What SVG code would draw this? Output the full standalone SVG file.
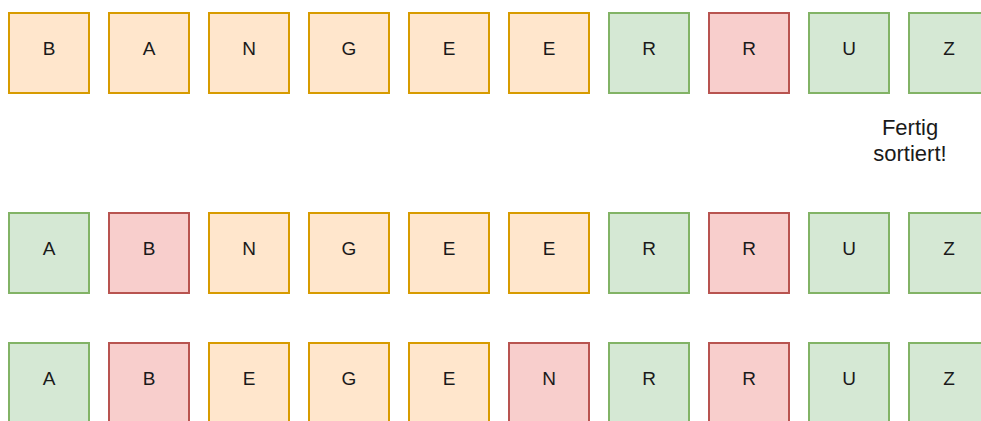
<svg xmlns="http://www.w3.org/2000/svg" width="981" height="421" viewBox="0 0 981 421">
<style>
rect{stroke-width:2}
.o{fill:#ffe6cc;stroke:#d79b00}
.g{fill:#d5e8d4;stroke:#82b366}
.r{fill:#f8cecc;stroke:#b85450}
text{font-family:"Liberation Sans",Arial,sans-serif;font-size:19px;fill:#1a1a1a;text-anchor:middle}
.lbl{font-size:22px}
</style>
<rect width="981" height="421" fill="#ffffff" stroke="none"/>
<g id="row1">
<g id="r1c1"><rect class="o" x="9" y="13" width="80" height="80"/><text x="49" y="55">B</text></g>
<g id="r1c2"><rect class="o" x="109" y="13" width="80" height="80"/><text x="149" y="55">A</text></g>
<g id="r1c3"><rect class="o" x="209" y="13" width="80" height="80"/><text x="249" y="55">N</text></g>
<g id="r1c4"><rect class="o" x="309" y="13" width="80" height="80"/><text x="349" y="55">G</text></g>
<g id="r1c5"><rect class="o" x="409" y="13" width="80" height="80"/><text x="449" y="55">E</text></g>
<g id="r1c6"><rect class="o" x="509" y="13" width="80" height="80"/><text x="549" y="55">E</text></g>
<g id="r1c7"><rect class="g" x="609" y="13" width="80" height="80"/><text x="649" y="55">R</text></g>
<g id="r1c8"><rect class="r" x="709" y="13" width="80" height="80"/><text x="749" y="55">R</text></g>
<g id="r1c9"><rect class="g" x="809" y="13" width="80" height="80"/><text x="849" y="55">U</text></g>
<g id="r1c10"><rect class="g" x="909" y="13" width="80" height="80"/><text x="949" y="55">Z</text></g>
</g>
<g id="label"><text class="lbl" x="910" y="135">Fertig</text><text class="lbl" x="910" y="161">sortiert!</text></g>
<g id="row2">
<g id="r2c1"><rect class="g" x="9" y="213" width="80" height="80"/><text x="49" y="255">A</text></g>
<g id="r2c2"><rect class="r" x="109" y="213" width="80" height="80"/><text x="149" y="255">B</text></g>
<g id="r2c3"><rect class="o" x="209" y="213" width="80" height="80"/><text x="249" y="255">N</text></g>
<g id="r2c4"><rect class="o" x="309" y="213" width="80" height="80"/><text x="349" y="255">G</text></g>
<g id="r2c5"><rect class="o" x="409" y="213" width="80" height="80"/><text x="449" y="255">E</text></g>
<g id="r2c6"><rect class="o" x="509" y="213" width="80" height="80"/><text x="549" y="255">E</text></g>
<g id="r2c7"><rect class="g" x="609" y="213" width="80" height="80"/><text x="649" y="255">R</text></g>
<g id="r2c8"><rect class="r" x="709" y="213" width="80" height="80"/><text x="749" y="255">R</text></g>
<g id="r2c9"><rect class="g" x="809" y="213" width="80" height="80"/><text x="849" y="255">U</text></g>
<g id="r2c10"><rect class="g" x="909" y="213" width="80" height="80"/><text x="949" y="255">Z</text></g>
</g>
<g id="row3">
<g id="r3c1"><rect class="g" x="9" y="343" width="80" height="80"/><text x="49" y="385">A</text></g>
<g id="r3c2"><rect class="r" x="109" y="343" width="80" height="80"/><text x="149" y="385">B</text></g>
<g id="r3c3"><rect class="o" x="209" y="343" width="80" height="80"/><text x="249" y="385">E</text></g>
<g id="r3c4"><rect class="o" x="309" y="343" width="80" height="80"/><text x="349" y="385">G</text></g>
<g id="r3c5"><rect class="o" x="409" y="343" width="80" height="80"/><text x="449" y="385">E</text></g>
<g id="r3c6"><rect class="r" x="509" y="343" width="80" height="80"/><text x="549" y="385">N</text></g>
<g id="r3c7"><rect class="g" x="609" y="343" width="80" height="80"/><text x="649" y="385">R</text></g>
<g id="r3c8"><rect class="r" x="709" y="343" width="80" height="80"/><text x="749" y="385">R</text></g>
<g id="r3c9"><rect class="g" x="809" y="343" width="80" height="80"/><text x="849" y="385">U</text></g>
<g id="r3c10"><rect class="g" x="909" y="343" width="80" height="80"/><text x="949" y="385">Z</text></g>
</g>
</svg>
